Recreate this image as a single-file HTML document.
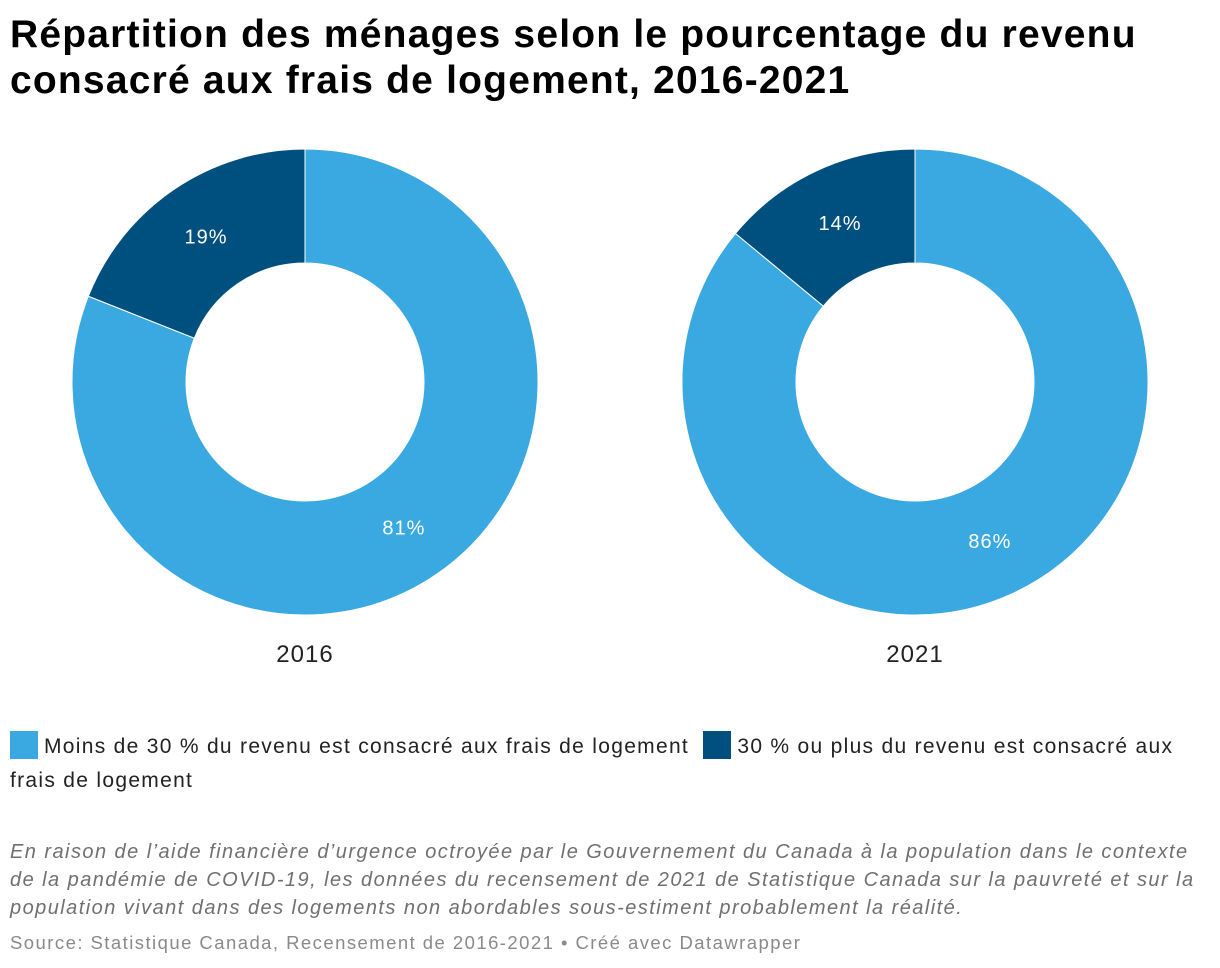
<!DOCTYPE html>
<html><head><meta charset="utf-8">
<style>
body{margin:0;background:#fff;width:1220px;height:968px;overflow:hidden;font-family:"Liberation Sans",sans-serif;}
#title{position:absolute;left:10px;top:12px;font-size:39px;font-weight:bold;line-height:46px;color:#000;letter-spacing:1.2px;margin:0}
#legend{position:absolute;left:10px;top:730px;font-size:21px;line-height:34px;color:#222;width:1210px;letter-spacing:1.3px}
.sw{display:inline-block;width:28px;height:28px;vertical-align:-6px;margin-right:6px}
#note{position:absolute;left:10px;top:838px;font-size:20px;line-height:28px;font-style:italic;color:#707070;width:1210px;letter-spacing:1.45px;white-space:nowrap}
#src{position:absolute;left:10px;top:932px;font-size:18.5px;color:#8a8a8a;letter-spacing:1.45px;white-space:nowrap}
</style></head><body>
<h1 id="title">Répartition des ménages selon le pourcentage du revenu<br>consacré aux frais de logement, 2016-2021</h1>
<svg id="chart" width="1220" height="700" style="position:absolute;left:0;top:0"></svg>
<div id="legend">
<span><span class="sw" style="background:#3aa9e2"></span>Moins de 30 % du revenu est consacré aux frais de logement</span>&nbsp;
<span><span class="sw" style="background:#00507f"></span>30 % ou plus du revenu est consacré aux<br>frais de logement</span>
</div>
<div id="note">En raison de l’aide financière d’urgence octroyée par le Gouvernement du Canada à la population dans le contexte<br>de la pandémie de COVID-19, les données du recensement de 2021 de Statistique Canada sur la pauvreté et sur la<br>population vivant dans des logements non abordables sous-estiment probablement la réalité.</div>
<div id="src">Source: Statistique Canada, Recensement de 2016-2021 • Créé avec Datawrapper</div>
<script>
const years = ["2016","2021"];
const under30 = [81, 86];
const over30 = [19, 14];
const colors = ["#3aa9e2","#00507f"];
const svg = document.getElementById('chart');
const NS = "http://www.w3.org/2000/svg";
const R = 233, r = 119, cy = 382;
const cxs = [305, 915];
function pt(cx, rad, a){ return [cx + rad*Math.sin(a), cy - rad*Math.cos(a)]; }
years.forEach((yr, i) => {
  const cx = cxs[i];
  const vals = [under30[i], over30[i]];
  const total = vals[0] + vals[1];
  let start = 0;
  vals.forEach((v, j) => {
    const end = start + v/total*2*Math.PI;
    const large = (end-start) > Math.PI ? 1 : 0;
    const [x1,y1] = pt(cx,R,start), [x2,y2] = pt(cx,R,end);
    const [x3,y3] = pt(cx,r,end), [x4,y4] = pt(cx,r,start);
    const p = document.createElementNS(NS,'path');
    p.setAttribute('d',`M${x1},${y1}A${R},${R} 0 ${large} 1 ${x2},${y2}L${x3},${y3}A${r},${r} 0 ${large} 0 ${x4},${y4}Z`);
    p.setAttribute('fill', colors[j]);
    p.setAttribute('stroke','#fff');
    p.setAttribute('stroke-width','1');
    
    
    svg.appendChild(p);
    const mid = (start+end)/2;
    const [lx,ly] = pt(cx,(R+r)/2,mid);
    const t = document.createElementNS(NS,'text');
    t.setAttribute('x', lx); t.setAttribute('y', ly+7);
    t.setAttribute('text-anchor','middle');
    t.setAttribute('fill','#fff');
    t.setAttribute('font-size','20');
    t.setAttribute('letter-spacing','1');
    t.setAttribute('font-family','Liberation Sans, sans-serif');
    t.textContent = v + '%';
    
    
    svg.appendChild(t);
    start = end;
  });
  const yl = document.createElementNS(NS,'text');
  yl.setAttribute('x', cx); yl.setAttribute('y', 662);
  yl.setAttribute('text-anchor','middle');
  yl.setAttribute('font-size','24');
  yl.setAttribute('letter-spacing','1');
  yl.setAttribute('fill','#222');
  yl.setAttribute('font-family','Liberation Sans, sans-serif');
  yl.textContent = yr;
  
  
  svg.appendChild(yl);
});
</script>
</body></html>
